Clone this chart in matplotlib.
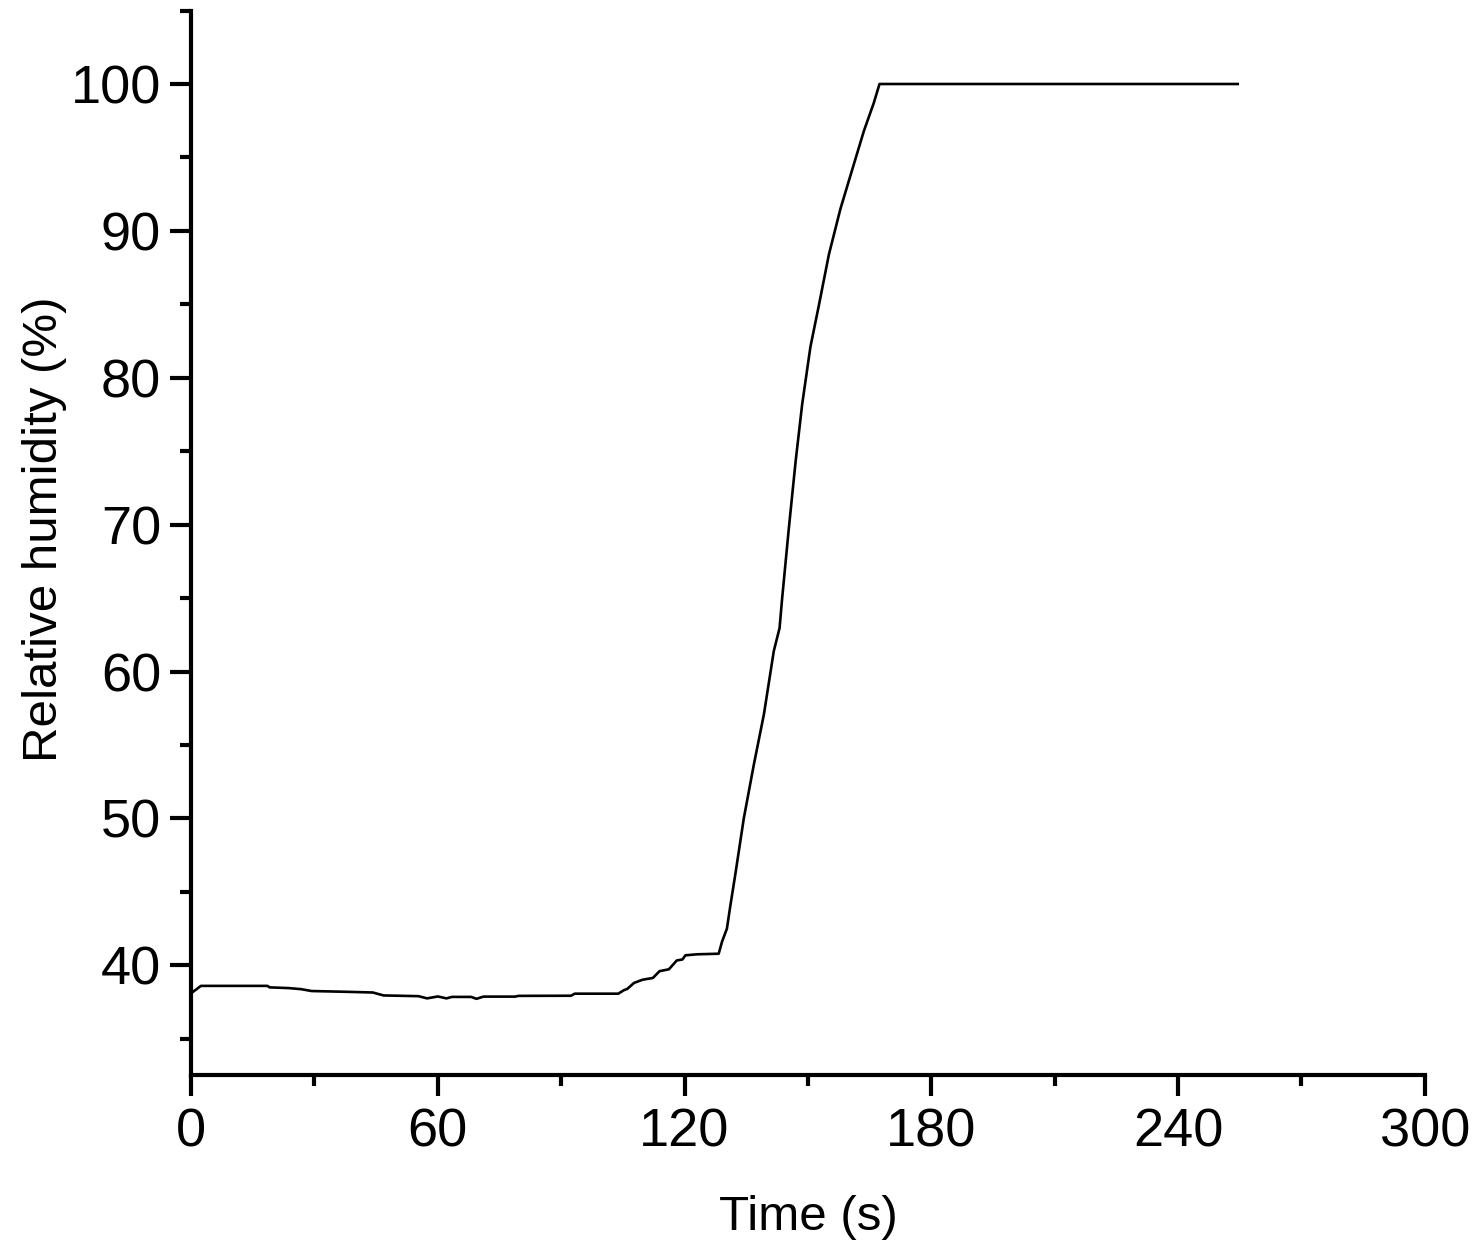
import numpy as np
import matplotlib.pyplot as plt
from matplotlib.ticker import MultipleLocator

plt.rcParams["font.family"] = ["Liberation Sans", "DejaVu Sans"]

# time (s) and relative humidity (%)
time_s = [0.5, 2.4, 18.6, 19.1, 23.7, 26.7, 29.3, 37.4, 44.2, 46.8,
          55.3, 57.4, 60.0, 62.1, 63.4, 68.1, 69.4, 71.1, 78.8, 79.6,
          92.4, 93.3, 103.9, 105.2, 106.1, 107.7, 109.8, 112.3, 113.9, 116.2,
          118.1, 119.5, 120.2, 123.0, 128.3, 129.1, 130.3, 131.1, 132.4, 134.4,
          136.8, 139.3, 141.7, 143.1, 143.7, 145.3, 147.0, 148.6, 150.6, 152.6,
          155.1, 157.9, 160.8, 163.6, 166.0, 167.4, 254.5]
rh = [38.2, 38.6, 38.6, 38.5, 38.45, 38.38, 38.25, 38.2, 38.15, 37.95,
      37.9, 37.75, 37.88, 37.75, 37.85, 37.85, 37.72, 37.87, 37.87, 37.92,
      37.93, 38.07, 38.07, 38.3, 38.4, 38.8, 39.02, 39.14, 39.6, 39.73,
      40.33, 40.4, 40.68, 40.75, 40.79, 41.6, 42.5, 44.0, 46.3, 50.0,
      53.6, 57.1, 61.4, 62.96, 64.9, 69.6, 74.3, 78.2, 82.1, 84.85,
      88.4, 91.5, 94.2, 96.8, 98.7, 100.0, 100.0]

fig = plt.figure(figsize=(14.73, 12.57), dpi=100)
ax = fig.add_axes([0.1297, 0.1444, 0.8376, 0.8472])

ax.plot(time_s, rh, color="black", lw=1.9)

ax.set_xlim(0, 300)
ax.set_ylim(32.5, 105)
ax.xaxis.set_major_locator(MultipleLocator(60))
ax.xaxis.set_minor_locator(MultipleLocator(30))
ax.yaxis.set_major_locator(MultipleLocator(10))
ax.yaxis.set_minor_locator(MultipleLocator(5))

for side in ("top", "right"):
    ax.spines[side].set_visible(False)
for side in ("left", "bottom"):
    ax.spines[side].set_linewidth(3)

ax.tick_params(which="major", direction="out", length=15, width=3,
               labelsize=39)
ax.tick_params(which="minor", direction="out", length=8, width=3)
ax.tick_params(axis="x", which="major", pad=8.2)
ax.tick_params(axis="y", which="major", pad=6.5)

ax.set_xlabel("Time (s)", fontsize=35.5, labelpad=27)
ax.set_ylabel("Relative humidity (%)", fontsize=35.5, labelpad=3)
ax.yaxis.label.set_y(0.513)

fig.savefig("out.png", dpi=100)
